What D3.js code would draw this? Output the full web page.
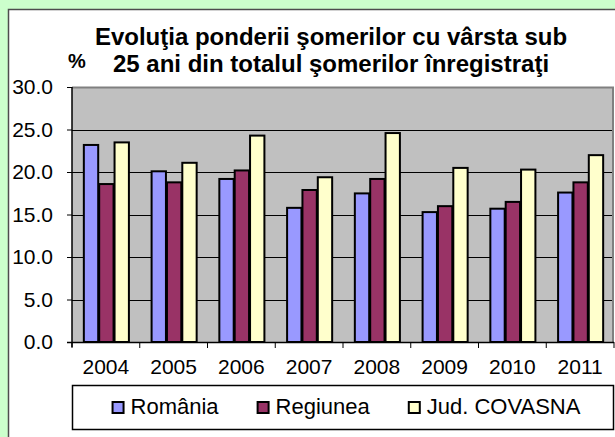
<!DOCTYPE html>
<html>
<head>
<meta charset="utf-8">
<script src="https://cdn.jsdelivr.net/npm/d3@7"></script>
<style>
  body { margin: 0; background: #CCFFCC; }
  svg { display: block; font-family: Arial, "Liberation Sans", sans-serif; }
</style>
</head>
<body>
<div id="chart"></div>
<script>
var years = ["2004", "2005", "2006", "2007", "2008", "2009", "2010", "2011"];
var seriesNames = ["România", "Regiunea", "Jud. COVASNA"];
var seriesColors = ["#9999FF", "#993366", "#FFFFCC"];
var romania  = [23.3, 20.2, 19.3, 15.9, 17.6, 15.4, 15.8, 17.7];
var regiunea = [18.7, 18.9, 20.3, 18.0, 19.3, 16.1, 16.6, 18.9];
var covasna  = [23.6, 21.2, 24.4, 19.5, 24.7, 20.6, 20.4, 22.1];
var yTicks = [0, 5, 10, 15, 20, 25, 30];
var titleLines = ["Evoluţia ponderii şomerilor cu vârsta sub", "25 ani din totalul şomerilor înregistraţi"];

var series = [romania, regiunea, covasna];

var width = 615, height = 437;
var plot = {left: 72, right: 614, top: 87, bottom: 342};

var svg = d3.select("#chart").append("svg")
  .attr("width", width)
  .attr("height", height);

// green page + white chart box (runs off right and bottom edge)
svg.append("rect")
  .attr("x", 0).attr("y", 0).attr("width", width).attr("height", height)
  .attr("fill", "#CCFFCC");
svg.append("rect")
  .attr("x", 8.5).attr("y", 9.5).attr("width", width + 10).attr("height", height + 10)
  .attr("fill", "#ffffff")
  .attr("stroke", "#4d4d4d")
  .attr("stroke-width", 1.5);

var x0 = d3.scaleBand()
  .domain(years)
  .range([plot.left, plot.right])
  .paddingInner(0.32)
  .paddingOuter(0.16);

var x1 = d3.scaleBand()
  .domain(d3.range(series.length))
  .range([0, x0.bandwidth()]);

var y = d3.scaleLinear()
  .domain([0, 30])
  .range([plot.bottom, plot.top]);

// plot area
svg.append("rect")
  .attr("x", plot.left).attr("y", plot.top)
  .attr("width", plot.right - plot.left).attr("height", plot.bottom - plot.top)
  .attr("fill", "#C0C0C0");

svg.append("g").selectAll("line")
  .data(yTicks.filter(function(d) { return d > 0 && d < 30; }))
  .enter()
  .append("line")
  .attr("x1", plot.left).attr("x2", plot.right)
  .attr("y1", function(d) { return Math.round(y(d)) + 0.5; })
  .attr("y2", function(d) { return Math.round(y(d)) + 0.5; })
  .attr("stroke", "#000000")
  .attr("stroke-width", 1);

// top / right border of the plot
svg.append("polyline")
  .attr("points", plot.left + "," + (plot.top + 0.5) + " " + (plot.right - 1) + "," + (plot.top + 0.5) + " " + (plot.right - 1) + "," + plot.bottom)
  .attr("fill", "none")
  .attr("stroke", "#808080")
  .attr("stroke-width", 2);

// bars
var groups = svg.append("g").selectAll("g.year")
  .data(years)
  .enter()
  .append("g")
  .attr("class", "year")
  .attr("transform", function(d) { return "translate(" + x0(d) + ",0)"; });

groups.selectAll("rect")
  .data(function(d, i) { return series.map(function(s, k) { return {k: k, v: s[i]}; }); })
  .enter()
  .append("rect")
  .attr("x", function(d) { return x1(d.k) + 1; })
  .attr("y", function(d) { return y(d.v) + 1; })
  .attr("width", x1.bandwidth() - 1)
  .attr("height", function(d) { return plot.bottom - y(d.v) - 1; })
  .attr("fill", function(d) { return seriesColors[d.k]; })
  .attr("stroke", "#000000")
  .attr("stroke-width", 2);

// y axis
var yAxis = svg.append("g")
  .attr("transform", "translate(" + plot.left + ",0)")
  .call(d3.axisLeft(y).tickValues(yTicks).tickSize(5).tickPadding(14).tickFormat(d3.format(".1f")));
yAxis.select(".domain").attr("stroke", "#000").attr("stroke-width", 1.5).attr("d", "M0," + plot.top + "V" + (plot.bottom + 5));
yAxis.selectAll(".tick line").attr("stroke", "#000");
yAxis.selectAll("text")
  .attr("fill", "#000")
  .style("font-size", "21px")
  .style("font-family", "Arial, 'Liberation Sans', sans-serif");

// x axis
var xAxis = svg.append("g")
  .attr("transform", "translate(0," + plot.bottom + ")");
xAxis.append("line")
  .attr("x1", plot.left - 5).attr("x2", plot.right)
  .attr("y1", 0.5).attr("y2", 0.5)
  .attr("stroke", "#000").attr("stroke-width", 1.5);
xAxis.selectAll("line.tick")
  .data(years.concat(["end"]))
  .enter()
  .append("line")
  .attr("class", "tick")
  .attr("x1", function(d, i) { return plot.left + i * x0.step(); })
  .attr("x2", function(d, i) { return plot.left + i * x0.step(); })
  .attr("y1", 0).attr("y2", 6)
  .attr("stroke", "#000");
xAxis.selectAll("text")
  .data(years)
  .enter()
  .append("text")
  .attr("x", function(d) { return x0(d) + x0.bandwidth() / 2; })
  .attr("y", 32)
  .attr("text-anchor", "middle")
  .style("font-size", "21px")
  .text(function(d) { return d; });

// title
svg.append("g").selectAll("text")
  .data(titleLines)
  .enter()
  .append("text")
  .attr("x", 331)
  .attr("y", function(d, i) { return 45 + i * 27; })
  .attr("text-anchor", "middle")
  .style("font-size", "24px")
  .style("font-weight", "bold")
  .text(function(d) { return d; });

svg.append("text")
  .attr("x", 68).attr("y", 68)
  .style("font-size", "20px")
  .style("font-weight", "bold")
  .text("%");

// legend
var legendBox = {x: 72.5, y: 385.5, w: 541, h: 44};
svg.append("rect")
  .attr("x", legendBox.x).attr("y", legendBox.y)
  .attr("width", legendBox.w).attr("height", legendBox.h)
  .attr("fill", "#ffffff")
  .attr("stroke", "#000")
  .attr("stroke-width", 1.5);

var legend = svg.append("g");
var items = legend.selectAll("g.item")
  .data(seriesNames)
  .enter()
  .append("g")
  .attr("class", "item");

items.append("rect")
  .attr("x", 1).attr("y", -12)
  .attr("width", 11).attr("height", 11)
  .attr("fill", function(d, i) { return seriesColors[i]; })
  .attr("stroke", "#000")
  .attr("stroke-width", 2);

items.append("text")
  .attr("x", 19).attr("y", 0)
  .style("font-size", "22px")
  .text(function(d) { return d; });

var offsets = [], pos = 0;
items.each(function() {
  offsets.push(pos);
  pos += 19 + this.querySelector("text").getComputedTextLength() + 38;
});
var totalWidth = pos - 38;
var startX = legendBox.x + (legendBox.w - totalWidth) / 2 + 3;
items.attr("transform", function(d, i) { return "translate(" + (startX + offsets[i]) + ",414)"; });
</script>
</body>
</html>
